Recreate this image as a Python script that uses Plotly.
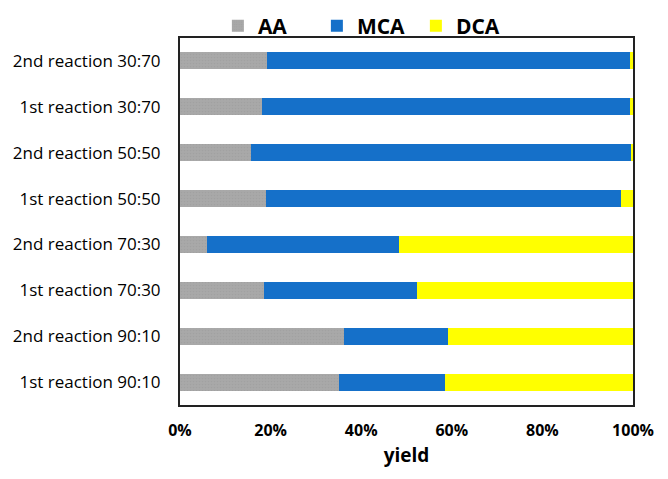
import plotly.graph_objects as go

categories = ["1st reaction 90:10", "2nd reaction 90:10", "1st reaction 70:30", "2nd reaction 70:30",
              "1st reaction 50:50", "2nd reaction 50:50", "1st reaction 30:70", "2nd reaction 30:70"]
aa = [35.0, 36.2, 18.5, 5.9, 19.0, 15.7, 18.1, 19.2]
mca = [23.5, 23.0, 33.8, 42.4, 78.4, 83.9, 81.2, 80.1]
dca = [41.5, 40.8, 47.7, 51.7, 2.6, 0.4, 0.7, 0.7]
x_ticks = [0, 20, 40, 60, 80, 100]
x_tick_labels = ["0%", "20%", "40%", "60%", "80%", "100%"]

FONT = "Open Sans, Liberation Sans, sans-serif"

fig = go.Figure()
fig.add_trace(go.Bar(y=categories, x=aa, name="AA", orientation="h",
                     marker=dict(color="#A6A6A6", line=dict(width=0),
                                 pattern=dict(shape=".", size=3, solidity=0.25, fgcolor="#9A9A9A", bgcolor="#A8A8A8"))))
fig.add_trace(go.Bar(y=categories, x=mca, name="MCA", orientation="h",
                     marker=dict(color="#1570C9", line=dict(width=0))))
fig.add_trace(go.Bar(y=categories, x=dca, name="DCA", orientation="h",
                     marker=dict(color="#FFFF00", line=dict(width=0))))

fig.update_layout(
    width=660, height=471,
    barmode="stack", bargap=0.63,
    paper_bgcolor="white", plot_bgcolor="white",
    margin=dict(l=172, r=35, t=30, b=74, autoexpand=False),
    font=dict(family=FONT, color="black"),
    legend=dict(orientation="h", xref="container", yref="container",
                x=0.318, xanchor="left", y=1 - 18 / 471, yanchor="middle",
                font=dict(size=21, family=FONT, weight="bold"), traceorder="normal",
                entrywidth=54, bgcolor="rgba(0,0,0,0)"),
    showlegend=True,
)
fig.update_xaxes(range=[0, 100], tickvals=x_ticks, ticktext=x_tick_labels,
                 showgrid=False, zeroline=False, showline=True, linecolor="#222222", linewidth=2,
                 mirror=True, ticks="", tickfont=dict(size=16, family=FONT, weight="bold"),
                 title=dict(text="yield", font=dict(size=19, family=FONT, weight="bold"), standoff=8),
                 ticklabelstandoff=10)
fig.update_yaxes(showgrid=False, showline=True, linecolor="#222222", linewidth=2, mirror=True,
                 ticks="", tickfont=dict(size=17, family=FONT), ticklabelstandoff=14,
                 range=[-0.5, 7.5])

fig.write_html("out.html")
